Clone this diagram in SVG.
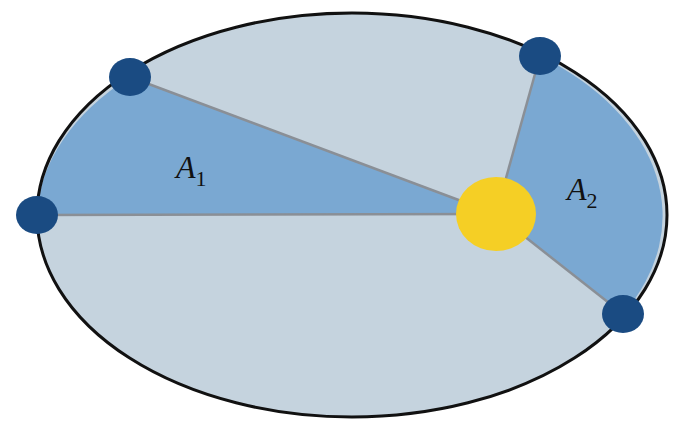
<svg xmlns="http://www.w3.org/2000/svg" width="687" height="437" viewBox="0 0 687 437">
<style>
.sec{fill:#7aa8d2;stroke:none}
.ray{stroke:#8a8f96;stroke-width:2.5;fill:none}
.pl{fill:#1a4b82}
.lbl{font-family:"Liberation Serif",serif;font-style:italic;font-size:32px;fill:#111}
.sub{font-family:"Liberation Serif",serif;font-size:22px;fill:#111}
</style>
<rect width="687" height="437" fill="#fff"/>
<g id="orbit"><ellipse cx="352" cy="215" rx="315" ry="202" fill="#c5d3de"/></g>
<g id="sectors">
<path class="sec" d="M496,214 L130,77 A315,202 0 0 0 37,215 Z"/>
<path class="sec" d="M496,214 L540,56 A315,202 0 0 1 623,314 Z"/>
</g>
<g id="connectors">
<line class="ray" x1="496" y1="214" x2="130" y2="77"/>
<line class="ray" x1="496" y1="214" x2="37" y2="215"/>
<line class="ray" x1="496" y1="214" x2="540" y2="56"/>
<line class="ray" x1="496" y1="214" x2="623" y2="314"/>
</g>
<g id="outline"><ellipse cx="352" cy="215" rx="315" ry="202" fill="none" stroke="#111" stroke-width="3"/></g>
<g id="sun"><ellipse cx="496" cy="214" rx="40" ry="37" fill="#f5cf25"/></g>
<g id="p1"><ellipse class="pl" cx="130" cy="77" rx="21" ry="19"/></g>
<g id="p2"><ellipse class="pl" cx="37" cy="215" rx="21" ry="19"/></g>
<g id="p3"><ellipse class="pl" cx="540" cy="56" rx="21" ry="19"/></g>
<g id="p4"><ellipse class="pl" cx="623" cy="314" rx="21" ry="19"/></g>
<g id="labels">
<text class="lbl" x="176" y="178">A<tspan class="sub" dy="8" font-style="normal">1</tspan></text>
<text class="lbl" x="567" y="200">A<tspan class="sub" dy="8" font-style="normal">2</tspan></text>
</g>
</svg>
